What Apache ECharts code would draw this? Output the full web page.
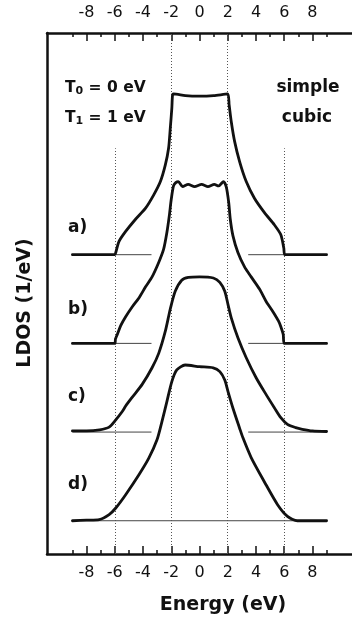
<!DOCTYPE html>
<html>
<head>
<meta charset="utf-8">
<script src="https://cdn.jsdelivr.net/npm/echarts@6/dist/echarts.min.js"></script>
<style>
html,body{margin:0;padding:0;background:#fff}
#chart{width:352px;height:622px}
</style>
</head>
<body>
<div id="chart"></div>
<script>
// Local density of states (1/eV) versus energy (eV), simple cubic lattice
const energyA = [-9, -6.0, -5.93, -5.70, -5.23, -4.53, -3.82, -3.24, -2.77, -2.42, -2.19, -2.07, -1.96, -1.91, -1.84, -1.0, 0, 1.0, 1.99, 2.10, 2.25, 2.49, 2.84, 3.31, 3.89, 4.60, 5.30, 5.76, 5.97, 6.05, 9];
const ldosA   = [0, 0, 0.002, 0.012, 0.021, 0.032, 0.042, 0.054, 0.066, 0.081, 0.096, 0.114, 0.132, 0.144, 0.145, 0.1435, 0.143, 0.1435, 0.145, 0.135, 0.120, 0.102, 0.084, 0.066, 0.051, 0.038, 0.027, 0.018, 0.006, 0, 0];

const energyB = [-9, -6.0, -5.95, -5.82, -5.58, -5.23, -4.76, -4.29, -3.82, -3.36, -2.89, -2.54, -2.31, -2.14, -2.0, -1.84, -1.68, -1.5, -1.2, -0.8, -0.35, 0.15, 0.6, 1.05, 1.35, 1.7, 1.90, 2.07, 2.18, 2.37, 2.72, 3.19, 3.66, 4.25, 4.71, 5.18, 5.60, 5.76, 5.93, 6.0, 9];
const ldosB   = [0, 0, 0.004, 0.008, 0.016, 0.024, 0.033, 0.041, 0.051, 0.060, 0.073, 0.085, 0.100, 0.115, 0.130, 0.142, 0.145, 0.146, 0.1415, 0.1435, 0.1415, 0.1435, 0.1415, 0.1435, 0.142, 0.146, 0.141, 0.127, 0.112, 0.097, 0.082, 0.069, 0.060, 0.049, 0.038, 0.029, 0.020, 0.015, 0.008, 0, 0];

const energyC = [-9, -8, -7.07, -6.4, -5.93, -5.47, -5.23, -4.76, -4.06, -3.36, -2.89, -2.42, -2.07, -1.72, -1.26, -0.79, 0, 0.98, 1.44, 1.79, 2.02, 2.25, 2.72, 3.31, 4.01, 4.71, 5.30, 5.76, 6.23, 6.81, 7.28, 8, 9];
const ldosC   = [0.001, 0.001, 0.002, 0.0045, 0.011, 0.0185, 0.0235, 0.0315, 0.043, 0.058, 0.071, 0.091, 0.111, 0.127, 0.137, 0.1395, 0.140, 0.139, 0.135, 0.127, 0.115, 0.103, 0.085, 0.067, 0.049, 0.034, 0.022, 0.013, 0.007, 0.004, 0.0025, 0.001, 0.0005];

const energyD = [-9, -8, -7.10, -6.40, -5.93, -5.23, -4.29, -3.59, -3.01, -2.66, -2.31, -1.96, -1.61, -1.02, 0, 0.97, 1.44, 1.79, 2.02, 2.37, 2.84, 3.07, 3.66, 4.60, 5.53, 6.23, 6.93, 8, 9];
const ldosD   = [0, 0.0005, 0.001, 0.0055, 0.0115, 0.0235, 0.0415, 0.0565, 0.073, 0.0895, 0.1075, 0.1255, 0.136, 0.1405, 0.139, 0.138, 0.1345, 0.127, 0.1165, 0.1015, 0.0835, 0.075, 0.057, 0.035, 0.0145, 0.004, 0, 0, 0];

// vertical shift of each curve (1/eV) and its tag
const curveOffsets = [0.24, 0.16, 0.08, 0];
const curveTags = ['a)', 'b)', 'c)', 'd)'];

// zero lines: split around the band centre for a-c, full width for d
const zeroLineSegments = [[-9, -3.4], [3.45, 9]];
const zeroLineFull = [-9, 9];

// axis ticks and labels
const majorTicks = [-8, -6, -4, -2, 0, 2, 4, 6, 8];
const minorTicks = [-9, -7, -5, -3, -1, 1, 3, 5, 7, 9];

// dotted guides at band features
const guideEnergies = [-6, -2, 2, 6];
const guideTops = [0.336, 0.44, 0.44, 0.336];

const Y_MIN = -0.03, Y_MAX = 0.44;
const FONT = 'DejaVu Sans';
const INK = '#111';

const energies = [energyA, energyB, energyC, energyD];
const ldos = [ldosA, ldosB, ldosC, ldosD];

const series = [];

// thin zero lines
curveOffsets.forEach((off, i) => {
  let data;
  if (i < 3) {
    data = [[zeroLineSegments[0][0], off], [zeroLineSegments[0][1], off], [null, null],
            [zeroLineSegments[1][0], off], [zeroLineSegments[1][1], off]];
  } else {
    data = [[zeroLineFull[0], off], [zeroLineFull[1], off]];
  }
  series.push({
    type: 'line', xAxisIndex: 0, yAxisIndex: 0,
    data: data,
    connectNulls: false,
    showSymbol: false, silent: true,
    lineStyle: { color: '#444', width: 1 },
    z: 2
  });
});

// dotted guide lines
series.push({
  type: 'line', xAxisIndex: 0, yAxisIndex: 0, data: [], silent: true,
  markLine: {
    silent: true, symbol: 'none', label: { show: false },
    lineStyle: { type: [1, 2], color: '#555', width: 1 },
    data: guideEnergies.map((e, i) => [{ coord: [e, Y_MIN] }, { coord: [e, guideTops[i]] }])
  },
  z: 1
});

// LDOS curves
energies.forEach((es, i) => {
  series.push({
    type: 'line', xAxisIndex: 0, yAxisIndex: 0,
    data: es.map((e, k) => [e, ldos[i][k] + curveOffsets[i]]),
    smooth: 0.25,
    showSymbol: false, silent: true,
    lineStyle: { color: INK, width: 2.8, cap: 'round', join: 'round' },
    z: 5
  });
});

const baseX = {
  type: 'value', min: -10.8, max: 10.8,
  splitLine: { show: false }
};

const option = {
  backgroundColor: '#fff',
  animation: false,
  grid: { left: 47, top: 33, width: 308, height: 521 },
  xAxis: [
    Object.assign({}, baseX, {
      position: 'bottom',
      axisLine: { show: true, onZero: false, lineStyle: { color: INK, width: 2.5 } },
      axisTick: { show: true, inside: true, length: 8, customValues: majorTicks, lineStyle: { color: INK, width: 1.5 } },
      axisLabel: { show: true, customValues: majorTicks, margin: 11, fontFamily: FONT, fontSize: 16, color: INK }
    }),
    Object.assign({}, baseX, {
      position: 'bottom',
      axisLine: { show: false, onZero: false },
      axisTick: { show: true, inside: true, length: 4, customValues: minorTicks, lineStyle: { color: INK, width: 1.5 } },
      axisLabel: { show: false }
    }),
    Object.assign({}, baseX, {
      position: 'top',
      axisLine: { show: true, onZero: false, lineStyle: { color: INK, width: 2.5 } },
      axisTick: { show: true, inside: true, length: 8, customValues: majorTicks, lineStyle: { color: INK, width: 1.5 } },
      axisLabel: { show: true, customValues: majorTicks, margin: 12, fontFamily: FONT, fontSize: 16, color: INK }
    }),
    Object.assign({}, baseX, {
      position: 'top',
      axisLine: { show: false, onZero: false },
      axisTick: { show: true, inside: true, length: 4, customValues: minorTicks, lineStyle: { color: INK, width: 1.5 } },
      axisLabel: { show: false }
    })
  ],
  yAxis: [{
    type: 'value', min: Y_MIN, max: Y_MAX, position: 'left',
    axisLine: { show: true, onZero: false, lineStyle: { color: INK, width: 2.5 } },
    axisTick: { show: false }, axisLabel: { show: false }, splitLine: { show: false }
  }],
  graphic: [
    { type: 'text', x: 223, y: 605, style: { text: 'Energy (eV)', align: 'center', verticalAlign: 'middle', font: 'bold 19px "DejaVu Sans"', fill: INK } },
    { type: 'text', x: 25, y: 303, rotation: Math.PI / 2, style: { text: 'LDOS (1/eV)', align: 'center', verticalAlign: 'middle', font: 'bold 19px "DejaVu Sans"', fill: INK } },
    { type: 'text', x: 65, y: 88, style: { text: 'T{s|0} = 0 eV', align: 'left', verticalAlign: 'middle', fontFamily: FONT, fontWeight: 'bold', fontSize: 15.5, fill: INK,
        rich: { s: { fontSize: 11, fontWeight: 'bold', fontFamily: FONT, verticalAlign: 'bottom', padding: [6, 0, 0, 0] } } } },
    { type: 'text', x: 65, y: 118, style: { text: 'T{s|1} = 1 eV', align: 'left', verticalAlign: 'middle', fontFamily: FONT, fontWeight: 'bold', fontSize: 15.5, fill: INK,
        rich: { s: { fontSize: 11, fontWeight: 'bold', fontFamily: FONT, verticalAlign: 'bottom', padding: [6, 0, 0, 0] } } } },
    { type: 'text', x: 308, y: 88, style: { text: 'simple', align: 'center', verticalAlign: 'middle', font: 'bold 17px "DejaVu Sans"', fill: INK } },
    { type: 'text', x: 307, y: 118, style: { text: 'cubic', align: 'center', verticalAlign: 'middle', font: 'bold 17px "DejaVu Sans"', fill: INK } }
  ].concat(curveTags.map((t, i) => ({
    type: 'text', x: 68, y: [228, 310, 397, 485][i],
    style: { text: t, align: 'left', verticalAlign: 'middle', font: 'bold 17px "DejaVu Sans"', fill: INK }
  }))),
  series: series
};

const chart = echarts.init(document.getElementById('chart'), null, { renderer: 'canvas' });
chart.setOption(option);
</script>
</body>
</html>
